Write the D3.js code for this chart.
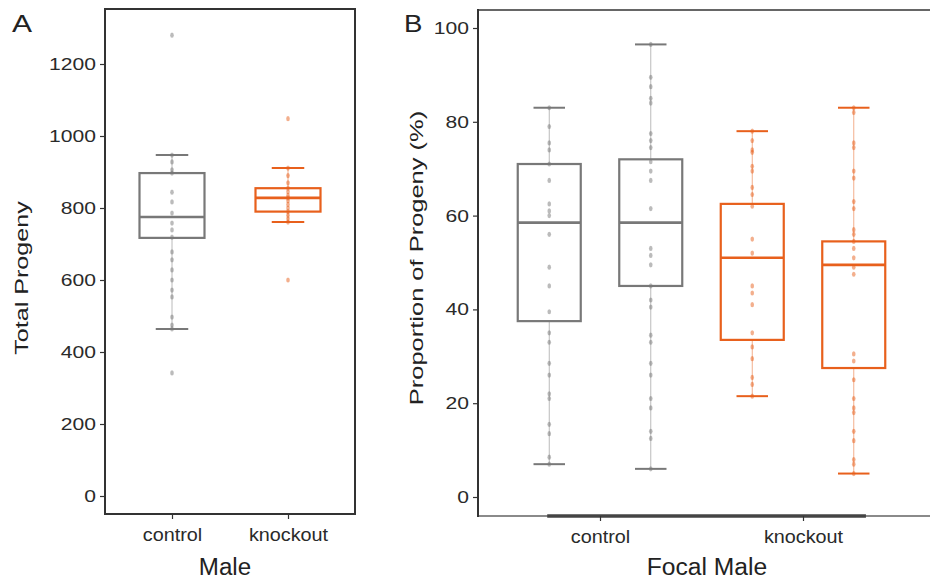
<!DOCTYPE html>
<html>
<head>
<meta charset="utf-8">
<script src="https://cdn.jsdelivr.net/npm/d3@7"></script>
<style>
  body { margin: 0; background: #fff; }
  svg { font-family: "Liberation Sans", Arial, sans-serif; }
</style>
</head>
<body>
<svg id="chart" width="930" height="580"></svg>
<script>
// ---- panel A : total progeny per male ----
const males = ["control", "knockout"];
const totalLow  = [464, 761];
const totalQ1   = [717, 790];
const totalMed  = [775, 828];
const totalQ3   = [897, 855];
const totalHigh = [947, 911];
const totalOutliers = [[1280, 342], [1048, 600]];
const totalPoints = [
  [947, 928, 906, 897, 844, 817, 786, 758, 739, 719, 678, 656, 628, 600, 572, 553, 497, 475, 464],
  [911, 890, 870, 855, 845, 835, 828, 820, 810, 800, 790, 780, 770, 761]
];
const totalTicks = [0, 200, 400, 600, 800, 1000, 1200];

// ---- panel B : proportion of progeny by focal male ----
const focal = ["control", "control", "knockout", "knockout"];
const slot = [0, 1, 0, 1];
const propLow  = [7, 6, 21.5, 5];
const propQ1   = [37.5, 45, 33.5, 27.5];
const propMed  = [58.5, 58.5, 51, 49.5];
const propQ3   = [71, 72, 62.5, 54.5];
const propHigh = [83, 96.5, 78, 83];
const propPoints = [
  [83, 79, 75.5, 74, 71, 67.5, 62.5, 61, 60, 56, 49, 45, 39.5, 35, 33, 28.5, 26, 22, 21, 15.5, 13.5, 8.5, 7],
  [96.5, 89.5, 87.5, 85, 84, 77.5, 76, 74.5, 71.5, 69.5, 67.5, 61.5, 53, 51.5, 49.5, 45, 42, 40.5, 34.5, 33, 28.5, 26, 21, 19, 14, 12.5, 6],
  [78, 76, 74, 73.5, 70.5, 69.5, 66, 64.5, 62, 55, 52, 45, 43.5, 41, 35, 32, 29.5, 25.5, 24, 21.5],
  [83, 82, 75.5, 74.5, 69.5, 68, 63, 61.5, 57, 56, 54.5, 53, 51, 49, 47.5, 30.5, 29, 25, 21, 19, 18, 14, 12, 8, 7, 5]
];
const propTicks = [0, 20, 40, 60, 80, 100];

const colour = d3.scaleOrdinal().domain(males).range(["#787878", "#e8601c"]);
const ink = "#333";

const svg = d3.select("#chart");

function stretch(sel, f) {
  sel.each(function () {
    const w = this.getComputedTextLength();
    d3.select(this).attr("textLength", w * f).attr("lengthAdjust", "spacingAndGlyphs");
  });
}

function yAxis(g, scale, ticks) {
  g.call(d3.axisLeft(scale).tickValues(ticks).tickFormat(d3.format("d"))
    .tickSize(5).tickSizeOuter(0).tickPadding(4));
  g.select(".domain").remove();
  g.selectAll(".tick line").attr("stroke", ink).attr("stroke-width", 1.2);
  g.selectAll(".tick text").attr("fill", "#2a2a2a").style("font-size", "17px");
  stretch(g.selectAll(".tick text"), 1.24);
}

function xAxis(g, scale) {
  g.call(d3.axisBottom(scale).tickSize(5).tickSizeOuter(0).tickPadding(9));
  g.select(".domain").remove();
  g.selectAll(".tick line").attr("stroke", ink).attr("stroke-width", 1.2);
  g.selectAll(".tick text").attr("fill", "#2a2a2a").style("font-size", "18px");
  stretch(g.selectAll(".tick text"), 1.1);
}

// draws one box with whiskers, caps and the raw points on top
function drawBox(g, cx, w, y, s, col) {
  const box = g.append("g");
  box.append("line")
    .attr("x1", cx).attr("x2", cx)
    .attr("y1", y(s.high)).attr("y2", y(s.q3))
    .attr("stroke", col).attr("stroke-width", 1).attr("opacity", 0.5);
  box.append("line")
    .attr("x1", cx).attr("x2", cx)
    .attr("y1", y(s.q1)).attr("y2", y(s.low))
    .attr("stroke", col).attr("stroke-width", 1).attr("opacity", 0.5);
  [s.high, s.low].forEach(v => {
    box.append("line")
      .attr("x1", cx - w / 4).attr("x2", cx + w / 4)
      .attr("y1", y(v)).attr("y2", y(v))
      .attr("stroke", col).attr("stroke-width", 2);
  });
  box.append("rect")
    .attr("x", cx - w / 2).attr("width", w)
    .attr("y", y(s.q3)).attr("height", y(s.q1) - y(s.q3))
    .attr("fill", "none").attr("stroke", col).attr("stroke-width", 2.2);
  box.append("line")
    .attr("x1", cx - w / 2).attr("x2", cx + w / 2)
    .attr("y1", y(s.med)).attr("y2", y(s.med))
    .attr("stroke", col).attr("stroke-width", 2.6);
  box.selectAll("ellipse")
    .data(s.points)
    .enter()
    .append("ellipse")
    .attr("cx", cx)
    .attr("cy", d => y(d))
    .attr("rx", 1.8)
    .attr("ry", 2.6)
    .attr("fill", col)
    .attr("opacity", 0.5);
}

// ===== panel A =====
const ax = d3.scalePoint().domain(males).range([172, 288]);
const ay = d3.scaleLinear().domain([0, 1200]).range([496, 64]);
const gA = svg.append("g");

males.forEach((m, i) => {
  drawBox(gA, ax(m), 65, ay, {
    low: totalLow[i], q1: totalQ1[i], med: totalMed[i], q3: totalQ3[i], high: totalHigh[i],
    points: totalPoints[i].concat(totalOutliers[i])
  }, colour(m));
});

gA.append("rect")
  .attr("x", 105).attr("y", 9).attr("width", 250).attr("height", 505)
  .attr("fill", "none").attr("stroke", ink).attr("stroke-width", 2);

gA.append("g").attr("transform", "translate(105,0)").call(yAxis, ay, totalTicks);
gA.append("g").attr("transform", "translate(0,514)").call(xAxis, ax);

const tA = gA.append("text")
  .attr("transform", "translate(28,278) rotate(-90)")
  .attr("text-anchor", "middle").attr("fill", "#222")
  .style("font-size", "19px").text("Total Progeny");
stretch(tA, 1.32);
const mA = gA.append("text")
  .attr("x", 225).attr("y", 575)
  .attr("text-anchor", "middle").attr("fill", "#222")
  .style("font-size", "23px").text("Male");
stretch(mA, 1.05);
const lA = gA.append("text")
  .attr("x", 12).attr("y", 32).attr("fill", "#222")
  .style("font-size", "24px").text("A");
stretch(lA, 1.25);

// ===== panel B =====
const bx = d3.scalePoint().domain(males).range([600, 803]);
const step = bx("knockout") - bx("control");
const by = d3.scaleLinear().domain([0, 100]).range([497, 28]);
const gB = svg.append("g");

focal.forEach((m, i) => {
  const cx = bx(m) + (slot[i] - 0.5) * step * 0.5;
  drawBox(gB, cx, 63, by, {
    low: propLow[i], q1: propQ1[i], med: propMed[i], q3: propQ3[i], high: propHigh[i],
    points: propPoints[i]
  }, colour(m));
});

gB.append("line")
  .attr("x1", 478).attr("x2", 935).attr("y1", 10).attr("y2", 10)
  .attr("stroke", "#666").attr("stroke-width", 2);
gB.append("line")
  .attr("x1", 478).attr("x2", 935).attr("y1", 516).attr("y2", 516)
  .attr("stroke", "#8a8a8a").attr("stroke-width", 2);
gB.append("line")
  .attr("x1", bx("control") - step * 0.26).attr("x2", bx("knockout") + step * 0.31)
  .attr("y1", 516).attr("y2", 516)
  .attr("stroke", "#444").attr("stroke-width", 3.5);
gB.append("line")
  .attr("x1", 478).attr("x2", 478).attr("y1", 9).attr("y2", 517)
  .attr("stroke", ink).attr("stroke-width", 2);

gB.append("g").attr("transform", "translate(478,0)").call(yAxis, by, propTicks);
gB.append("g").attr("transform", "translate(0,516)").call(xAxis, bx);

const tB = gB.append("text")
  .attr("transform", "translate(423,258) rotate(-90)")
  .attr("text-anchor", "middle").attr("fill", "#222")
  .style("font-size", "19px").text("Proportion of Progeny (%)");
stretch(tB, 1.34);
const mB = gB.append("text")
  .attr("x", 707).attr("y", 575)
  .attr("text-anchor", "middle").attr("fill", "#222")
  .style("font-size", "23px").text("Focal Male");
stretch(mB, 1.07);
const lB = gB.append("text")
  .attr("x", 404).attr("y", 32).attr("fill", "#222")
  .style("font-size", "24px").text("B");
stretch(lB, 1.15);
</script>
</body>
</html>
